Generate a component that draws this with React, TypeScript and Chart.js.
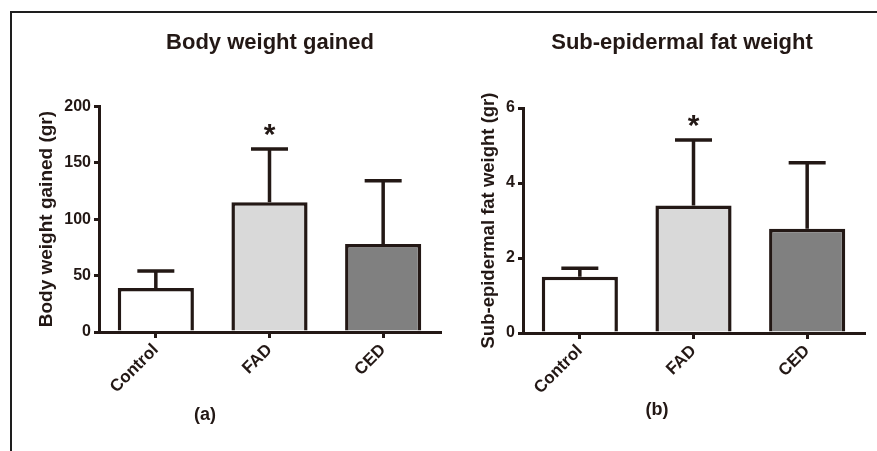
import React, { useEffect, useRef } from 'react';
import { Chart, registerables } from 'chart.js';

Chart.register(...registerables);

// ---------- data ----------
const categories = ['Control', 'FAD', 'CED'];
const barColors = ['#ffffff', '#d9d9d9', '#808080'];
const significance = ['', '*', ''];

const bodyWeightMeans = [39, 115, 78];
const bodyWeightSD = [15, 47, 56];
const bodyWeightTicks = { max: 200, step: 50 };

const fatMeans = [1.5, 3.4, 2.78];
const fatSD = [0.23, 1.75, 1.76];
const fatTicks = { max: 6, step: 2 };

// ---------- styling ----------
const INK = '#231815';
const FONT = "'Liberation Sans', Arial, Helvetica, sans-serif";
Chart.defaults.font.family = FONT;
Chart.defaults.color = INK;

const errorBarPlugin = {
  id: 'errorBars',
  afterDatasetsDraw(chart: any, _args: any, opts: any) {
    const { ctx } = chart;
    const meta = chart.getDatasetMeta(0);
    const y = chart.scales.y;
    const data = chart.data.datasets[0].data as number[];
    ctx.save();
    ctx.strokeStyle = INK;
    ctx.lineWidth = opts.lineWidth;
    ctx.lineCap = 'butt';
    meta.data.forEach((bar: any, i: number) => {
      const x = bar.x;
      const yTop = y.getPixelForValue(data[i] + opts.sd[i]);
      const yBase = y.getPixelForValue(data[i]);
      ctx.beginPath();
      ctx.moveTo(x, yBase);
      ctx.lineTo(x, yTop);
      ctx.moveTo(x - opts.capWidth / 2, yTop);
      ctx.lineTo(x + opts.capWidth / 2, yTop);
      ctx.stroke();
      const mark = opts.marks[i];
      if (mark) {
        ctx.fillStyle = INK;
        ctx.font = `bold ${opts.markSize}px ${FONT}`;
        ctx.textAlign = 'center';
        ctx.textBaseline = 'alphabetic';
        ctx.fillText(mark, x, yTop - opts.markGap);
      }
    });
    ctx.restore();
  },
};

const panelLabelPlugin = {
  id: 'panelLabel',
  afterDraw(chart: any, _args: any, opts: any) {
    const { ctx, chartArea } = chart;
    ctx.save();
    ctx.fillStyle = INK;
    ctx.font = `bold ${opts.size}px ${FONT}`;
    ctx.textAlign = 'center';
    ctx.textBaseline = 'middle';
    ctx.fillText(opts.text, chartArea.left + opts.dx, opts.y);
    ctx.restore();
  },
};

interface PanelProps {
  title: string;
  titleSize: number;
  titlePad: { top: number; bottom: number };
  yTitle: string;
  yTitleSize: number;
  yTitlePad: number;
  means: number[];
  sd: number[];
  ticks: { max: number; step: number };
  panel: string;
  panelDx: number;
  panelY: number;
  yWidth: number;
  xHeight: number;
  rightWidth: number;
  left: number;
  width: number;
}

function Panel(p: PanelProps) {
  const ref = useRef<HTMLCanvasElement>(null);
  useEffect(() => {
    if (!ref.current) return;
    const chart = new Chart(ref.current, {
      type: 'bar',
      data: {
        labels: categories,
        datasets: [
          {
            data: p.means,
            backgroundColor: barColors,
            borderColor: INK,
            borderWidth: 3.5,
            borderSkipped: 'start',
            categoryPercentage: 1,
            barPercentage: 0.67,
          },
        ],
      },
      options: {
        responsive: false,
        animation: false,
        layout: { padding: 0 },
        plugins: {
          legend: { display: false },
          tooltip: { enabled: false },
          title: {
            display: true,
            text: p.title,
            color: INK,
            font: { size: p.titleSize, weight: 'bold', family: FONT },
            padding: p.titlePad,
          },
          errorBars: {
            sd: p.sd,
            marks: significance,
            capWidth: 37,
            lineWidth: 3.5,
            markSize: 30,
            markGap: 5,
          },
          panelLabel: { text: p.panel, size: 18, dx: p.panelDx, y: p.panelY },
        } as any,
        scales: {
          x: {
            offset: true,
            ticks: {
              color: INK,
              font: { size: 17, weight: 'bold', family: FONT },
              minRotation: 45,
              maxRotation: 45,
              padding: 2,
            },
            grid: {
              offset: false,
              drawOnChartArea: false,
              drawTicks: true,
              tickLength: 6,
              lineWidth: 3,
              color: INK,
            },
            border: { display: true, color: INK, width: 3 },
            afterFit: (s: any) => {
              s.height = p.xHeight;
            },
          },
          y: {
            min: 0,
            max: p.ticks.max,
            ticks: {
              stepSize: p.ticks.step,
              color: INK,
              font: { size: 16, weight: 'bold', family: FONT },
              padding: 3,
            },
            grid: {
              drawOnChartArea: false,
              drawTicks: true,
              tickLength: 5,
              lineWidth: 3,
              color: INK,
            },
            border: { display: true, color: INK, width: 3 },
            title: {
              display: true,
              text: p.yTitle,
              color: INK,
              font: { size: p.yTitleSize, weight: 'bold', family: FONT },
              padding: { top: p.yTitlePad, bottom: 0 },
            },
            afterFit: (s: any) => {
              s.width = p.yWidth;
            },
          },
          spacer: {
            type: 'linear',
            position: 'right',
            display: true,
            ticks: { display: false },
            grid: { display: false, drawTicks: false },
            border: { display: false },
            afterFit: (s: any) => {
              s.width = p.rightWidth;
            },
          },
        },
      },
      plugins: [errorBarPlugin, panelLabelPlugin],
    } as any);
    return () => chart.destroy();
  }, []);
  return (
    <canvas
      ref={ref}
      width={p.width}
      height={451}
      style={{ position: 'absolute', left: p.left, top: 0, width: p.width, height: 451 }}
    />
  );
}

export default function App() {
  return (
    <div
      style={{
        position: 'absolute',
        left: 0,
        top: 0,
        width: 877,
        height: 451,
        overflow: 'hidden',
        background: '#ffffff',
      }}
    >
      <div
        style={{
          position: 'absolute',
          left: 10,
          top: 11,
          width: 880,
          height: 460,
          borderLeft: '2px solid #1e1e1e',
          borderTop: '2px solid #1e1e1e',
        }}
      />
      <Panel
        title="Body weight gained"
        titleSize={22}
        titlePad={{ top: 29.8, bottom: 50 }}
        yTitle="Body weight gained (gr)"
        yTitleSize={19}
        yTitlePad={35.6}
        means={bodyWeightMeans}
        sd={bodyWeightSD}
        ticks={bodyWeightTicks}
        panel="(a)"
        panelDx={106}
        panelY={415}
        yWidth={99}
        xHeight={119}
        rightWidth={100}
        left={0}
        width={540}
      />
      <Panel
        title="Sub-epidermal fat weight"
        titleSize={22}
        titlePad={{ top: 29.8, bottom: 51.8 }}
        yTitle="Sub-epidermal fat weight (gr)"
        yTitleSize={18.5}
        yTitlePad={37.9}
        means={fatMeans}
        sd={fatSD}
        ticks={fatTicks}
        panel="(b)"
        panelDx={134}
        panelY={410}
        yWidth={83}
        xHeight={118}
        rightWidth={60}
        left={440}
        width={484}
      />
    </div>
  );
}
